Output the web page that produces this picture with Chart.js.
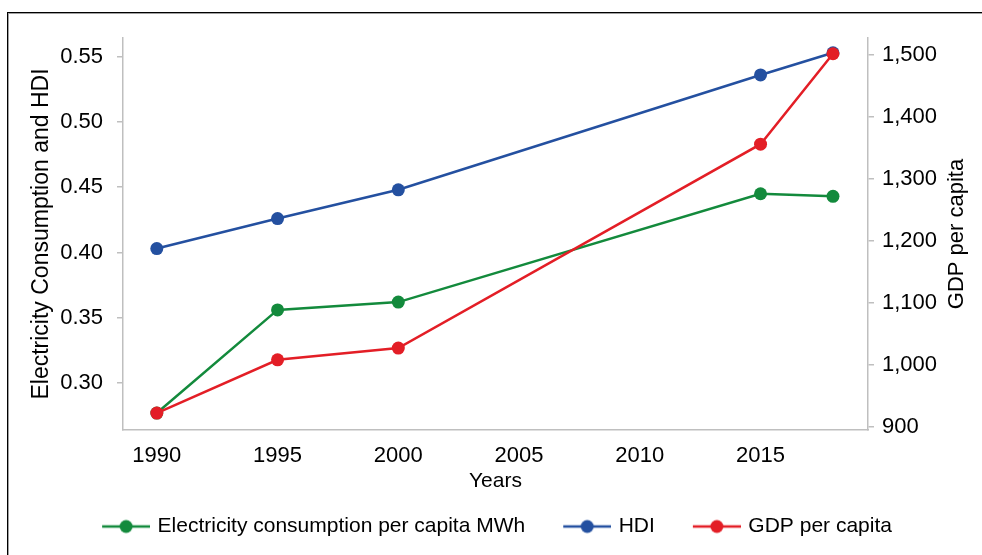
<!DOCTYPE html>
<html><head><meta charset="utf-8">
<script src="https://cdn.jsdelivr.net/npm/chart.js@4.4.1/dist/chart.umd.min.js"></script>
<style>
html,body{margin:0;padding:0;background:#fff;}
#wrap{position:relative;width:982px;height:555px;overflow:hidden;background:#fff;}
canvas{position:absolute;left:0;top:0;}
#frame{position:absolute;left:7px;top:12px;right:-10px;bottom:-10px;border-top:1px solid #000;border-left:1px solid #000;pointer-events:none;}
#frame2{position:absolute;left:8px;top:13px;right:-10px;bottom:-10px;border-top:1px solid #a0a0a0;border-left:1px solid #a0a0a0;pointer-events:none;}
</style></head>
<body><div id="wrap"><canvas id="c" width="982" height="555"></canvas><div id="frame"></div><div id="frame2"></div></div>
<script>
// ---- data ----
const years = [1990, 1995, 2000, 2015, 2018];
const electricity = [0.277, 0.356, 0.362, 0.445, 0.443];
const hdi = [0.403, 0.426, 0.448, 0.536, 0.553];
const gdp = [922, 1008, 1027, 1356, 1502];
const xTickValues = [1990, 1995, 2000, 2005, 2010, 2015];
const leftTickValues = [0.30, 0.35, 0.40, 0.45, 0.50, 0.55];
const rightTickValues = [900, 1000, 1100, 1200, 1300, 1400, 1500];
const seriesNames = ['Electricity consumption per capita MWh', 'HDI', 'GDP per capita'];
const xTitle = 'Years';
const leftTitle = 'Electricity Consumption and HDI';
const rightTitle = 'GDP per capita';

// ---- styles ----
const colors = ['#138a3c', '#2450a0', '#e31e26'];
const FONT = 'Liberation Sans, Arial, sans-serif';
const axisGray = '#bfbfbf';

// legend icon: line with a dot, with transparent left margin to space items
function legendIcon(color) {
  const margin = 31, w = 48, h = 16;
  const cv = document.createElement('canvas');
  cv.width = margin + w; cv.height = h;
  const g = cv.getContext('2d');
  g.strokeStyle = color; g.lineWidth = 2.5;
  g.beginPath(); g.moveTo(margin, h / 2); g.lineTo(margin + w, h / 2); g.stroke();
  g.fillStyle = color;
  g.beginPath(); g.arc(margin + w / 2, h / 2, 6.5, 0, Math.PI * 2); g.fill();
  return cv;
}
const icons = colors.map(legendIcon);

function pts(vals) { return years.map((y, i) => ({ x: y, y: vals[i] })); }
function ds(label, vals, color, axis, order) {
  return {
    label, data: pts(vals), yAxisID: axis, order,
    borderColor: color, backgroundColor: color,
    pointBackgroundColor: color, pointBorderColor: color,
    borderWidth: 2.5, pointRadius: 6.5, pointHoverRadius: 6.5, pointBorderWidth: 0,
    tension: 0, clip: false
  };
}

const rightTitlePlugin = {
  id: 'rightTitle',
  afterDraw(chart) {
    const a = chart.chartArea, ctx = chart.ctx;
    ctx.save();
    ctx.font = '22px ' + FONT;
    ctx.fillStyle = '#000';
    ctx.textAlign = 'center';
    ctx.textBaseline = 'middle';
    ctx.translate(957, (a.top + a.bottom) / 2);
    ctx.rotate(-Math.PI / 2);
    ctx.fillText(rightTitle, 0, 0);
    ctx.restore();
  }
};

new Chart(document.getElementById('c'), {
  type: 'line',
  data: {
    datasets: [
      ds(seriesNames[0], electricity, colors[0], 'y', 2),
      ds(seriesNames[1], hdi, colors[1], 'y', 1),
      ds(seriesNames[2], gdp, colors[2], 'y1', 0)
    ]
  },
  options: {
    responsive: false,
    animation: false,
    devicePixelRatio: 1,
    layout: { padding: { top: 38, left: 0, right: 16, bottom: 8 } },
    scales: {
      x: {
        type: 'linear', min: 1988.6, max: 2019.45,
        afterBuildTicks: s => { s.ticks = xTickValues.map(v => ({ value: v })); },
        afterFit: s => { s.height = 76; },
        grid: { display: false, drawTicks: false },
        border: { display: true, color: axisGray, width: 1.5 },
        ticks: { color: '#000', font: { family: FONT, size: 22 }, padding: 13, maxRotation: 0, callback: v => String(v) },
        title: { display: true, text: xTitle, color: '#000', font: { family: FONT, size: 21 }, padding: { top: 0, bottom: 12 } }
      },
      y: {
        type: 'linear', position: 'left', min: 0.264, max: 0.5643,
        afterBuildTicks: s => { s.ticks = leftTickValues.map(v => ({ value: v })); },
        afterFit: s => { s.width = 123; },
        grid: { drawOnChartArea: false, drawTicks: true, tickLength: 6, color: axisGray, lineWidth: 1.5 },
        border: { display: true, color: axisGray, width: 1.5 },
        ticks: { color: '#000', font: { family: FONT, size: 22 }, padding: 14, callback: v => Number(v).toFixed(2) },
        title: { display: true, text: leftTitle, color: '#000', font: { family: FONT, size: 23 }, padding: { top: 28, bottom: 0 } }
      },
      y1: {
        type: 'linear', position: 'right', min: 894.7, max: 1527.4,
        afterBuildTicks: s => { s.ticks = rightTickValues.map(v => ({ value: v })); },
        afterFit: s => { s.width = 98; },
        grid: { drawOnChartArea: false, drawTicks: true, tickLength: 6, color: axisGray, lineWidth: 1.5 },
        border: { display: true, color: axisGray, width: 1.5 },
        ticks: { color: '#000', font: { family: FONT, size: 22 }, padding: 8, callback: v => Number(v).toLocaleString('en-US') },
        title: { display: false }
      }
    },
    plugins: {
      tooltip: { enabled: false },
      legend: {
        position: 'bottom',
        labels: {
          color: '#000',
          font: { family: FONT, size: 21 },
          usePointStyle: true,
          pointStyleWidth: 73,
          boxHeight: 16,
          padding: 10,
          sort: (a, b) => a.datasetIndex - b.datasetIndex,
          generateLabels: chart => {
            const items = Chart.defaults.plugins.legend.labels.generateLabels(chart);
            items.forEach(it => { it.pointStyle = icons[it.datasetIndex]; });
            return items;
          }
        }
      }
    },
    events: []
  },
  plugins: [rightTitlePlugin]
});
</script>
</body></html>
